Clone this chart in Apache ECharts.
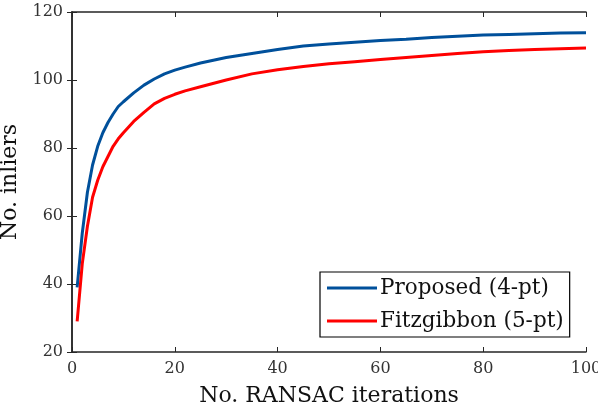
<!DOCTYPE html>
<html>
<head>
<meta charset="utf-8">
<script src="https://cdn.jsdelivr.net/npm/echarts@6/dist/echarts.min.js"></script>
<style>
  html, body { margin: 0; padding: 0; background: #fff; }
  #chart { width: 598px; height: 408px; }
</style>
</head>
<body>
<div id="chart"></div>
<script>
// 数据
const iterations = [1, 2, 3, 4, 5, 6, 7, 8, 9, 10, 12, 14, 16, 18, 20, 22, 25, 30, 35, 40, 45, 50, 55, 60, 65, 70, 75, 80, 85, 90, 95, 100];
const proposed = [39, 55, 67, 75, 80.5, 84.5, 87.5, 90, 92.2, 93.6, 96.2, 98.5, 100.3, 101.8, 102.9, 103.8, 105, 106.6, 107.8, 109, 110, 110.6, 111.1, 111.6, 112, 112.5, 112.9, 113.2, 113.4, 113.6, 113.8, 113.9];
const fitzgibbon = [29, 46, 57, 65.5, 70.5, 74.5, 77.5, 80.5, 82.7, 84.5, 87.8, 90.5, 93, 94.6, 95.8, 96.8, 98, 100, 101.8, 103, 104, 104.8, 105.4, 106, 106.6, 107.2, 107.8, 108.3, 108.7, 109, 109.2, 109.4];
const seriesNames = ["Proposed (4-pt)", "Fitzgibbon (5-pt)"];

const font = "'DejaVu Serif', 'Liberation Serif', serif";
const axisColor = "#262626";

function pairs(xs, ys) {
  return xs.map((x, i) => [x, ys[i]]);
}

const chart = echarts.init(document.getElementById("chart"));
chart.setOption({
  animation: false,
  textStyle: { fontFamily: font },
  grid: { left: 72, right: 12, top: 12, bottom: 56, containLabel: false, outerBoundsMode: "none" },
  legend: {
    left: 320,
    top: 272,
    orient: "vertical",
    icon: "rect",
    itemWidth: 50,
    itemHeight: 3,
    itemGap: 11,
    padding: [5, 6, 5, 7],
    borderColor: "#000",
    borderWidth: 1.2,
    backgroundColor: "#fff",
    textStyle: { fontFamily: font, fontSize: 21.5, color: "#111", padding: [0, 0, 0, -2] },
    data: seriesNames,
  },
  xAxis: [
    {
      type: "value",
      min: 0,
      max: 100,
      interval: 20,
      name: "No. RANSAC iterations",
      nameLocation: "middle",
      nameGap: 33,
      nameTextStyle: { fontSize: 22, color: "#111", fontFamily: font },
      axisLine: { lineStyle: { color: axisColor, width: 1.5 } },
      axisTick: { inside: true, length: 5, lineStyle: { color: axisColor } },
      axisLabel: { fontSize: 16, color: "#333", margin: 9 },
      splitLine: { show: false },
    },
    {
      type: "value",
      position: "top",
      min: 0,
      max: 100,
      interval: 20,
      axisLine: { show: true, lineStyle: { color: axisColor, width: 1.5 } },
      axisTick: { inside: true, length: 5, lineStyle: { color: axisColor } },
      axisLabel: { show: false },
      splitLine: { show: false },
    },
  ],
  yAxis: [
    {
      type: "value",
      min: 20,
      max: 120,
      interval: 20,
      name: "No. inliers",
      nameLocation: "middle",
      nameGap: 43,
      nameTextStyle: { fontSize: 22, color: "#111", fontFamily: font },
      axisLine: { show: true, lineStyle: { color: axisColor, width: 1.5 } },
      axisTick: { show: true, inside: true, length: 5, lineStyle: { color: axisColor } },
      axisLabel: { fontSize: 16, color: "#333", margin: 9 },
      splitLine: { show: false },
    },
    {
      type: "value",
      position: "right",
      min: 20,
      max: 120,
      interval: 20,
      axisLine: { show: true, lineStyle: { color: axisColor, width: 1.5 } },
      axisTick: { show: true, inside: true, length: 5, lineStyle: { color: axisColor } },
      axisLabel: { show: false },
      splitLine: { show: false },
    },
  ],
  series: [
    {
      name: seriesNames[0],
      type: "line",
      data: pairs(iterations, proposed),
      showSymbol: false,
      lineStyle: { color: "#00509b", width: 3 },
      itemStyle: { color: "#00509b" },
    },
    {
      name: seriesNames[1],
      type: "line",
      data: pairs(iterations, fitzgibbon),
      showSymbol: false,
      lineStyle: { color: "#ff0000", width: 3 },
      itemStyle: { color: "#ff0000" },
    },
  ],
});
</script>
</body>
</html>
